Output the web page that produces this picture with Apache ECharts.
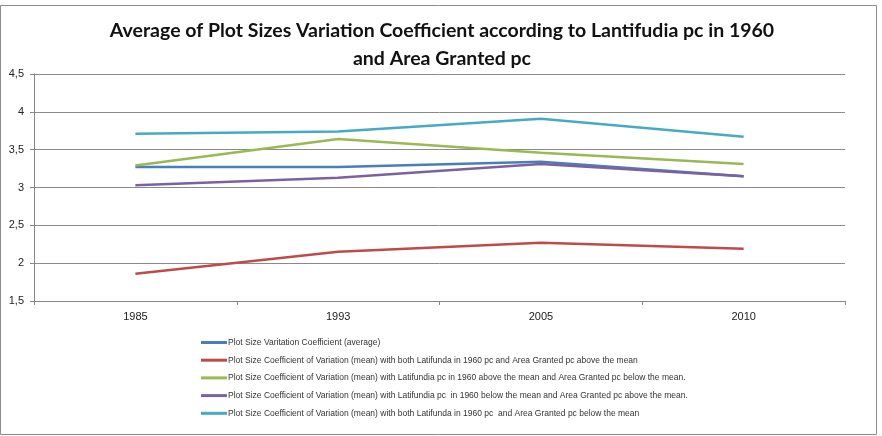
<!DOCTYPE html>
<html>
<head>
<meta charset="utf-8">
<script src="https://cdn.jsdelivr.net/npm/echarts@6/dist/echarts.min.js"></script>
<style>
  html, body { margin: 0; padding: 0; background: #fff; }
  #main { width: 882px; height: 436px; }
</style>
</head>
<body>
<div id="main"></div>
<script>
// categories (years)
var years = ['1985', '1993', '2005', '2010'];

// series values
var avgCoef = [3.27, 3.27, 3.34, 3.15];
var bothAbove = [1.86, 2.15, 2.27, 2.19];
var latAboveAreaBelow = [3.29, 3.64, 3.46, 3.31];
var latBelowAreaAbove = [3.03, 3.13, 3.31, 3.15];
var bothBelow = [3.71, 3.74, 3.91, 3.67];

var seriesNames = [
    'Plot Size Varitation Coefficient (average)',
    'Plot Size Coefficient of Variation (mean) with both Latifunda in 1960 pc and Area Granted pc above the mean',
    'Plot Size Coefficient of Variation (mean) with Latifundia pc in 1960 above the mean and Area Granted pc below the mean.',
    'Plot Size Coefficient of Variation (mean) with Latifundia pc  in 1960 below the mean and Area Granted pc above the mean.',
    'Plot Size Coefficient of Variation (mean) with both Latifunda in 1960 pc  and Area Granted pc below the mean'
];
var seriesData = [avgCoef, bothAbove, latAboveAreaBelow, latBelowAreaAbove, bothBelow];
var colors = ['#4a7ebb', '#be4b48', '#98b954', '#7d60a0', '#46aac5'];

var myChart = echarts.init(document.getElementById('main'));

var series = [];
for (var i = 0; i < seriesData.length; i++) {
    series.push({
        name: seriesNames[i],
        type: 'line',
        data: seriesData[i],
        showSymbol: false,
        symbol: 'none',
        lineStyle: { width: 2.5, color: colors[i] },
        itemStyle: { color: colors[i] }
    });
}

var option = {
    backgroundColor: '#fff',
    animation: false,
    title: {
        text: 'Average of Plot Sizes Variation Coefficient according to Lantifudia pc in 1960\nand Area Granted pc',
        left: 437,
        textAlign: 'center',
        top: 12,
        textStyle: {
            fontFamily: 'Lato',
            fontWeight: 'bold',
            fontSize: 19.5,
            lineHeight: 28,
            color: '#111'
        }
    },
    legend: {
        orient: 'vertical',
        left: 196,
        top: 333,
        icon: 'rect',
        itemWidth: 26,
        itemHeight: 3,
        itemGap: 8.7,
        textStyle: { fontSize: 8.5, color: '#333', fontFamily: 'Liberation Sans', padding: [0, 0, 0, -4] },
        data: seriesNames
    },
    grid: { left: 34, right: 37, top: 74, bottom: 135 },
    xAxis: {
        type: 'category',
        data: years,
        boundaryGap: true,
        axisLine: { lineStyle: { color: '#868686' } },
        axisTick: { show: true, length: 4, lineStyle: { color: '#868686' } },
        axisLabel: { color: '#222', fontSize: 11, margin: 10, fontFamily: 'Liberation Sans' }
    },
    yAxis: {
        type: 'value',
        min: 1.5,
        max: 4.5,
        interval: 0.5,
        axisLine: { show: true, lineStyle: { color: '#868686' } },
        axisTick: { show: true, length: 4, lineStyle: { color: '#868686' } },
        splitLine: { lineStyle: { color: '#8a8a8a' } },
        axisLabel: {
            color: '#222',
            fontSize: 11,
            margin: 10,
            fontFamily: 'Liberation Sans',
            formatter: function (v) { return String(v).replace('.', ','); }
        }
    },
    graphic: [{
        type: 'rect',
        shape: { x: 0.5, y: 5.5, width: 876, height: 429 },
        style: { fill: 'none', stroke: '#8c8c8c', lineWidth: 1 },
        silent: true
    }],
    series: series
};

myChart.setOption(option);
</script>
</body>
</html>
